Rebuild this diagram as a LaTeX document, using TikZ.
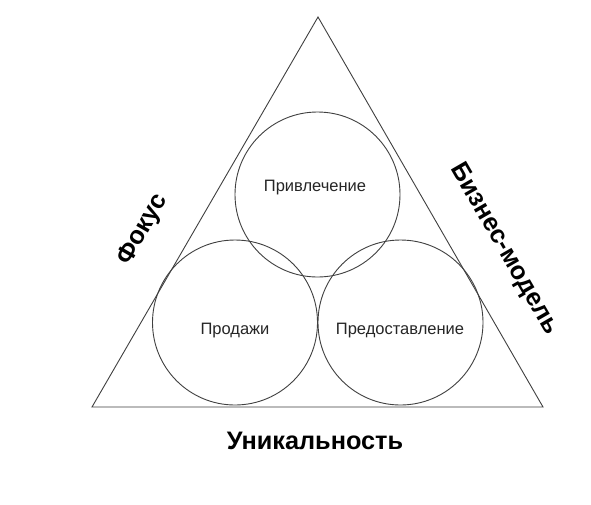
\documentclass[tikz,border=0pt]{standalone}
\usepackage{fontspec}
\setmainfont{Liberation Sans}
\begin{document}
\begin{tikzpicture}[x=1pt,y=-1pt,
  ring/.style={circle,draw=black!75,line width=0.9pt,minimum size=165pt,inner sep=0pt},
  ringlabel/.style={font=\fontsize{16.5}{19}\selectfont,text=black!85},
  sidelabel/.style={font=\bfseries\fontsize{25.3}{29}\selectfont,text=black}]
\useasboundingbox[fill=white] (0,0) rectangle (591,504);
\coordinate (A) at (318,17);
\coordinate (B) at (92,407);
\coordinate (C) at (543,407);
\draw[black!75,line width=0.9pt] (A) -- (B) -- (C) -- cycle;
\node[ring] (top) at (317.5,194.5) {};
\node[ring] (left) at (235,322.5) {};
\node[ring] (right) at (400.5,322.5) {};
\node[ringlabel] (t1) at (315,188) {Привлечение};
\node[ringlabel] (t2) at (235,330.5) {Продажи};
\node[ringlabel] (t3) at (400,330.5) {Предоставление};
\node[sidelabel,rotate=60] (focus) at (143,230) {Фокус};
\node[sidelabel,rotate=-60] (bm) at (504,249) {Бизнес-модель};
\node[sidelabel] (uniq) at (315,441) {Уникальность};
\end{tikzpicture}
\end{document}
